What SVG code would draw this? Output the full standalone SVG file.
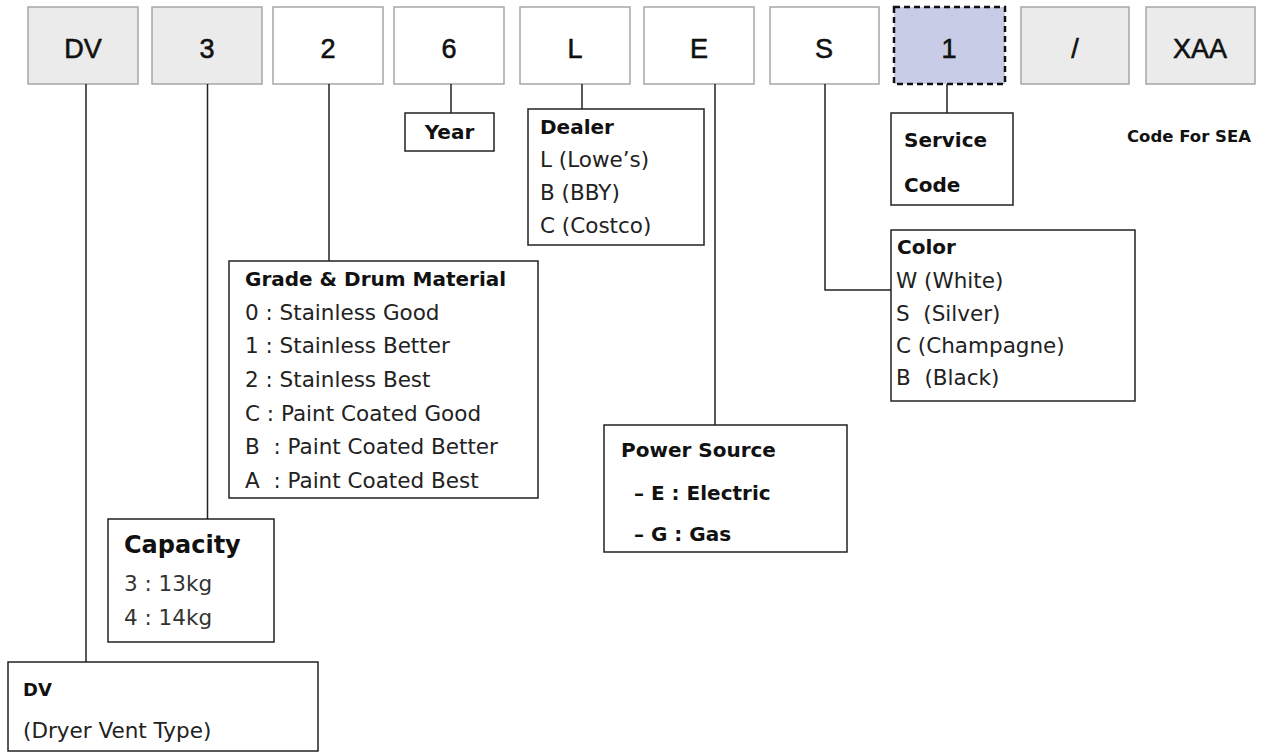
<svg xmlns="http://www.w3.org/2000/svg" width="1265" height="753" viewBox="0 0 1265 753">
<style>
text{white-space:pre}
.code{stroke:#a6a6a6;stroke-width:1.5}
.grey{fill:#ebebeb}
.white{fill:#ffffff}
.svc{fill:#c8cce6;stroke:#111;stroke-width:2.5;stroke-dasharray:6 4}
.ct{font-family:"Liberation Sans",Arial,sans-serif;font-size:27px;fill:#111;text-anchor:middle;stroke:#111;stroke-width:0.6}
.box{fill:#fff;stroke:#222;stroke-width:1.5}
.h{font-family:"DejaVu Sans","Liberation Sans",sans-serif;font-weight:bold;font-size:20px;fill:#111}
.b{font-family:"DejaVu Sans","Liberation Sans",sans-serif;font-size:21.5px;fill:#222}
.g{fill:#333}
.conn line,.conn polyline{stroke:#222;stroke-width:1.5;fill:none}
</style>
<rect width="1265" height="753" fill="#fff"/>
<g id="codes">
<g id="c-dv"><rect class="code grey" x="28" y="7" width="110" height="77"/><text class="ct" x="83" y="58">DV</text></g>
<g id="c-3"><rect class="code grey" x="152" y="7" width="110" height="77"/><text class="ct" x="207" y="58">3</text></g>
<g id="c-2"><rect class="code white" x="273" y="7" width="110" height="77"/><text class="ct" x="328" y="58">2</text></g>
<g id="c-6"><rect class="code white" x="394" y="7" width="110" height="77"/><text class="ct" x="449" y="58">6</text></g>
<g id="c-l"><rect class="code white" x="520" y="7" width="110" height="77"/><text class="ct" x="575" y="58">L</text></g>
<g id="c-e"><rect class="code white" x="644" y="7" width="110" height="77"/><text class="ct" x="699" y="58">E</text></g>
<g id="c-s"><rect class="code white" x="770" y="7" width="109" height="77"/><text class="ct" x="824" y="58">S</text></g>
<g id="c-1"><rect class="svc" x="894" y="7" width="111" height="77"/><text class="ct" x="949" y="58">1</text></g>
<g id="c-slash"><rect class="code grey" x="1021" y="7" width="108" height="77"/><text class="ct" x="1075" y="58">/</text></g>
<g id="c-xaa"><rect class="code grey" x="1146" y="7" width="109" height="77"/><text class="ct" x="1200" y="58">XAA</text></g>
</g>
<g class="conn" id="connectors">
<line x1="86" y1="84" x2="86" y2="662"/>
<line x1="207.5" y1="84" x2="207.5" y2="519"/>
<line x1="329" y1="84" x2="329" y2="268"/>
<line x1="451" y1="84" x2="451" y2="113"/>
<line x1="582" y1="84" x2="582" y2="109"/>
<line x1="715" y1="84" x2="715" y2="425"/>
<polyline points="825,84 825,290 891,290"/>
<line x1="947" y1="84" x2="947" y2="113"/>
</g>
<g id="year"><rect class="box" x="405" y="113" width="89" height="38"/><text class="h" x="449.5" y="139" text-anchor="middle">Year</text></g>
<g id="dealer"><rect class="box" x="528" y="109" width="176" height="136"/>
<text class="h" x="540" y="134">Dealer</text>
<text class="b" x="540" y="167">L (Lowe’s)</text>
<text class="b" x="540" y="200">B (BBY)</text>
<text class="b" x="540" y="233">C (Costco)</text></g>
<g id="service"><rect class="box" x="891" y="113" width="122" height="92"/>
<text class="h" x="904" y="147">Service</text>
<text class="h" x="904" y="192">Code</text></g>
<text id="sea" class="h" x="1127" y="142" style="font-size:16.5px">Code For SEA</text>
<g id="color"><rect class="box" x="891" y="230" width="244" height="171"/>
<text class="h" x="897" y="254">Color</text>
<text class="b" x="896" y="288">W (White)</text>
<text class="b" x="896" y="321">S  (Silver)</text>
<text class="b" x="896" y="353">C (Champagne)</text>
<text class="b" x="896" y="385">B  (Black)</text></g>
<g id="grade"><rect class="box" x="229" y="261" width="309" height="237"/>
<text class="h" x="245" y="286">Grade &amp; Drum Material</text>
<text class="b" x="245" y="320">0 : Stainless Good</text>
<text class="b" x="245" y="353">1 : Stainless Better</text>
<text class="b" x="245" y="387">2 : Stainless Best</text>
<text class="b" x="245" y="421">C : Paint Coated Good</text>
<text class="b" x="245" y="454">B  : Paint Coated Better</text>
<text class="b" x="245" y="488">A  : Paint Coated Best</text></g>
<g id="power"><rect class="box" x="604" y="425" width="243" height="127"/>
<text class="h" x="621" y="457">Power Source</text>
<text class="h" x="634" y="500">– E : Electric</text>
<text class="h" x="634" y="541">– G : Gas</text></g>
<g id="capacity"><rect class="box" x="108" y="519" width="166" height="123"/>
<text class="h" x="124" y="553" style="font-size:24px">Capacity</text>
<text class="b g" x="124" y="591">3 : 13kg</text>
<text class="b g" x="124" y="625">4 : 14kg</text></g>
<g id="dv"><rect class="box" x="8" y="662" width="310" height="89"/>
<text class="h" x="23" y="696" style="font-size:18px">DV</text>
<text class="b" x="23" y="738">(Dryer Vent Type)</text></g>
</svg>
